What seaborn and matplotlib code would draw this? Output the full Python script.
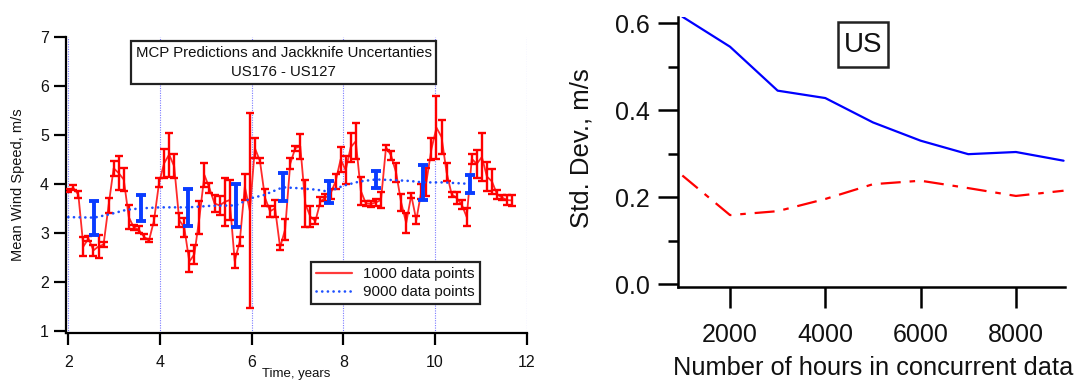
import numpy as np
import matplotlib
matplotlib.use("Agg")
import matplotlib.pyplot as plt
import seaborn as sns
import pandas as pd
from matplotlib.lines import Line2D
from matplotlib.patches import Rectangle

# ---------------- data: left panel ----------------
red_years = [2.00, 2.11, 2.22, 2.33, 2.44, 2.55, 2.66, 2.77, 2.88, 2.99,
             3.10, 3.21, 3.32, 3.43, 3.54, 3.65, 3.76, 3.87, 3.98, 4.09,
             4.20, 4.31, 4.42, 4.53, 4.64, 4.75, 4.86, 4.97, 5.08, 5.19,
             5.30, 5.41, 5.52, 5.63, 5.74, 5.85, 5.96, 6.07, 6.18, 6.29,
             6.40, 6.51, 6.62, 6.73, 6.84, 6.95, 7.06, 7.17, 7.28, 7.39,
             7.50, 7.61, 7.72, 7.83, 7.94, 8.05, 8.16, 8.27, 8.38, 8.49,
             8.60, 8.71, 8.82, 8.93, 9.04, 9.15, 9.26, 9.37, 9.48, 9.59,
             9.70, 9.81, 9.92, 10.03, 10.14, 10.25, 10.36, 10.47, 10.58, 10.69,
             10.80, 10.91, 11.02, 11.13, 11.24, 11.35, 11.46, 11.57, 11.68]
red_speed = [3.86, 3.92, 3.78, 2.72, 2.88, 2.64, 2.72, 2.76, 3.56, 4.32,
             4.22, 4.09, 3.32, 3.11, 3.06, 2.92, 2.84, 3.25, 4.02, 4.42,
             4.60, 4.36, 3.26, 3.11, 2.41, 2.56, 3.31, 4.18, 3.91, 3.60,
             3.56, 3.63, 3.67, 2.42, 2.82, 3.94, 3.45, 4.73, 4.47, 3.72,
             3.44, 3.50, 2.70, 3.07, 4.41, 4.73, 4.77, 3.59, 3.33, 3.24,
             3.64, 3.72, 3.80, 4.05, 4.50, 4.28, 4.75, 4.87, 3.86, 3.60,
             3.59, 3.62, 3.67, 4.75, 4.58, 4.23, 3.62, 3.20, 3.77, 3.26,
             3.85, 4.04, 4.71, 5.15, 4.96, 4.24, 3.79, 3.71, 3.58, 3.32,
             4.51, 4.41, 4.55, 4.15, 4.05, 3.79, 3.72, 3.67, 3.66]
red_err = [0.03, 0.05, 0.07, 0.19, 0.05, 0.11, 0.23, 0.06, 0.15, 0.15,
           0.35, 0.23, 0.24, 0.05, 0.07, 0.05, 0.03, 0.09, 0.09, 0.30,
           0.45, 0.25, 0.14, 0.19, 0.22, 0.19, 0.33, 0.25, 0.10, 0.17,
           0.19, 0.49, 0.40, 0.14, 0.09, 0.27, 1.99, 0.21, 0.05, 0.17,
           0.11, 0.17, 0.05, 0.22, 0.11, 0.05, 0.26, 0.48, 0.22, 0.07,
           0.10, 0.08, 0.10, 0.15, 0.25, 0.28, 0.30, 0.37, 0.29, 0.05,
           0.06, 0.08, 0.17, 0.05, 0.10, 0.20, 0.18, 0.20, 0.05, 0.08,
           0.15, 0.29, 0.22, 0.65, 0.35, 0.18, 0.05, 0.12, 0.10, 0.18,
           0.10, 0.29, 0.50, 0.30, 0.25, 0.09, 0.05, 0.10, 0.12]

blue_years = [2.00, 2.57, 2.91, 3.27, 3.59, 4.00, 4.62, 5.09, 5.65, 6.00,
              6.26, 6.68, 7.05, 7.42, 7.69, 7.99, 8.36, 8.71, 9.02, 9.45,
              9.74, 10.18, 10.76]
blue_speed = [3.32, 3.31, 3.38, 3.47, 3.50, 3.52, 3.52, 3.55, 3.56, 3.71,
              3.77, 3.93, 3.91, 3.88, 3.84, 3.96, 4.05, 4.09, 4.08, 4.06,
              4.03, 4.03, 4.00]
bar_years = [2.57, 3.59, 4.62, 5.65, 6.68, 7.69, 8.71, 9.74, 10.76]
bar_speed = [3.30, 3.51, 3.52, 3.56, 3.94, 3.84, 4.09, 4.03, 4.00]
bar_err = [0.34, 0.26, 0.375, 0.44, 0.28, 0.225, 0.18, 0.36, 0.18]

left_yticks = [1, 2, 3, 4, 5, 6, 7]
left_xticks = [2, 4, 6, 8, 10, 12]

# ---------------- data: right panel ----------------
hours = [1000, 2000, 3000, 4000, 5000, 6000, 7000, 8000, 9000]
std_blue = [0.615, 0.546, 0.445, 0.428, 0.372, 0.330, 0.299, 0.304, 0.284]
std_red = [0.250, 0.159, 0.168, 0.196, 0.230, 0.238, 0.221, 0.203, 0.215]
right_yticks = [0.0, 0.2, 0.4, 0.6]
right_yminor = [0.1, 0.3, 0.5]
right_xticks = [2000, 4000, 6000, 8000]

# ---------------- style ----------------
sns.set_theme(style="white")
plt.rcParams['font.family'] = ['Liberation Sans', 'DejaVu Sans']

W, H = 1077, 381
fig = plt.figure(figsize=(W / 100, H / 100), dpi=100)


def fx(px):
    return px / W


def fy(py):
    return 1 - py / H


RED = '#ff0000'
BLUE = '#0a3cff'

# ================= left panel =================
ax1 = fig.add_axes([fx(65.5), fy(333), fx(526.8) - fx(65.5), fy(37.2) - fy(333)])
df_red = pd.DataFrame({'t': red_years, 'v': red_speed})
df_blue = pd.DataFrame({'t': blue_years, 'v': blue_speed})

sns.lineplot(data=df_red, x='t', y='v', ax=ax1, color='#ff2a2a', lw=1.3,
             sort=False, estimator=None, legend=False, zorder=3)
ax1.errorbar(red_years, red_speed, yerr=red_err, fmt='none', ecolor=RED,
             elinewidth=1.7, capsize=3.0, capthick=1.7, zorder=4)
sns.lineplot(data=df_blue, x='t', y='v', ax=ax1, color='#1e50ff', lw=1.9,
             sort=False, estimator=None, legend=False, zorder=5,
             linestyle=(0, (0.05, 2.1)), dash_capstyle='round')
ax1.errorbar(bar_years, bar_speed, yerr=bar_err, fmt='none', ecolor=BLUE,
             elinewidth=2.8, capsize=3.3, capthick=2.8, zorder=6)

ax1.set_xlim(1.94, 12.0)
ax1.set_ylim(0.95, 7.0)
ax1.set_xticks(left_xticks)
ax1.set_yticks(left_yticks)
ax1.set_xticklabels([str(v) for v in left_xticks])
ax1.set_yticklabels([str(v) for v in left_yticks])
ax1.grid(False)
for xv in left_xticks:
    ax1.axvline(xv, color='#7b7bff', lw=0.8, linestyle=(0, (1, 1.2)), zorder=1)
for s in ['top', 'right']:
    ax1.spines[s].set_visible(False)
for s in ['left', 'bottom']:
    ax1.spines[s].set_color('black')
    ax1.spines[s].set_linewidth(1.6)
ax1.tick_params(axis='both', direction='out', length=8.5, width=1.6,
                color='black', labelsize=11.5, labelcolor='#111111')
ax1.tick_params(axis='x', pad=7.5, bottom=True)
ax1.tick_params(axis='y', pad=3.5, left=True)
ax1.set_xlabel('')
ax1.set_ylabel('')
ax1.patch.set_alpha(0)

fig.text(fx(18), fy(185), 'Mean Wind Speed, m/s', rotation=90, ha='center',
         va='center', fontsize=10.5, color='#111111')
fig.text(fx(296), fy(380), 'Time, years', ha='center', va='bottom',
         fontsize=9.5, color='#111111')

# title box
fig.patches.append(Rectangle((fx(131), fy(84.3)), fx(436) - fx(131),
                             fy(40.7) - fy(84.3), transform=fig.transFigure,
                             facecolor='white', edgecolor='#222222', lw=1.6,
                             zorder=10))
fig.text(fx(283.5), fy(53.3), 'MCP Predictions and Jackknife Uncertanties',
         ha='center', va='center', fontsize=10.8, color='#111111', zorder=11)
fig.text(fx(283.5), fy(71.7), 'US176 - US127', ha='center', va='center',
         fontsize=10.8, color='#111111', zorder=11)

# legend
handles = [Line2D([], [], color='#ff3a3a', lw=1.6),
           Line2D([], [], color='#1e50ff', lw=1.9, linestyle=(0, (0.05, 2.1)),
                  dash_capstyle='round')]
leg = ax1.legend(handles, ['1000 data points', '9000 data points'],
                 loc='lower left', bbox_to_anchor=(fx(311), fy(304)),
                 bbox_transform=fig.transFigure, frameon=True, fancybox=False,
                 fontsize=10.8, handlelength=2.4, handletextpad=0.7,
                 borderpad=0.35, labelspacing=0.25, borderaxespad=0)
leg.get_frame().set_edgecolor('#222222')
leg.get_frame().set_linewidth(1.6)
leg.get_frame().set_alpha(1)
for t in leg.get_texts():
    t.set_color('#111111')

# ================= right panel =================
ax2 = fig.add_axes([fx(678.3), fy(287.3), fx(1065) - fx(678.3), fy(16.7) - fy(287.3)])
df_r = pd.DataFrame({'h': hours, 'b': std_blue, 'r': std_red})
sns.lineplot(data=df_r, x='h', y='b', ax=ax2, color='#0000ff', lw=1.6,
             estimator=None, legend=False)
sns.lineplot(data=df_r, x='h', y='r', ax=ax2, color='#ff0000', lw=1.6,
             estimator=None, legend=False, linestyle=(0, (9, 4, 2.5, 4)))
ax2.set_xlim(915, 9030)
ax2.set_ylim(-0.007, 0.615)
ax2.set_xticks(right_xticks)
ax2.set_xticklabels([str(v) for v in right_xticks])
ax2.set_yticks(right_yticks)
ax2.set_yticklabels(['%.1f' % v for v in right_yticks])
ax2.set_yticks(right_yminor, minor=True)
for s in ['top', 'right']:
    ax2.spines[s].set_visible(False)
for s in ['left', 'bottom']:
    ax2.spines[s].set_color('black')
    ax2.spines[s].set_linewidth(1.8)
ax2.tick_params(axis='both', which='major', direction='out', width=1.8,
                color='black', labelsize=18, labelcolor='#111111')
ax2.tick_params(axis='y', which='major', length=14.5, pad=6, left=True)
ax2.tick_params(axis='y', which='minor', length=7.2, width=1.8, left=True,
                direction='out', color='black')
ax2.tick_params(axis='x', which='major', length=15, pad=11, bottom=True)
ax2.set_xlabel('')
ax2.set_ylabel('')
ax2.patch.set_alpha(0)

fig.text(fx(582), fy(148), 'Std. Dev., m/s', rotation=90, ha='center',
         va='center', fontsize=18.5, color='#111111')
fig.text(fx(873), fy(368), 'Number of hours in concurrent data', ha='center',
         va='center', fontsize=18.3, color='#111111')

fig.patches.append(Rectangle((fx(838), fy(66.7)), fx(888) - fx(838),
                             fy(21.7) - fy(66.7), transform=fig.transFigure,
                             facecolor='white', edgecolor='#222222', lw=1.8,
                             zorder=10))
fig.text(fx(863), fy(44.5), 'US', ha='center', va='center', fontsize=20,
         color='#111111', zorder=11)

fig.savefig('out.png', dpi=100)
